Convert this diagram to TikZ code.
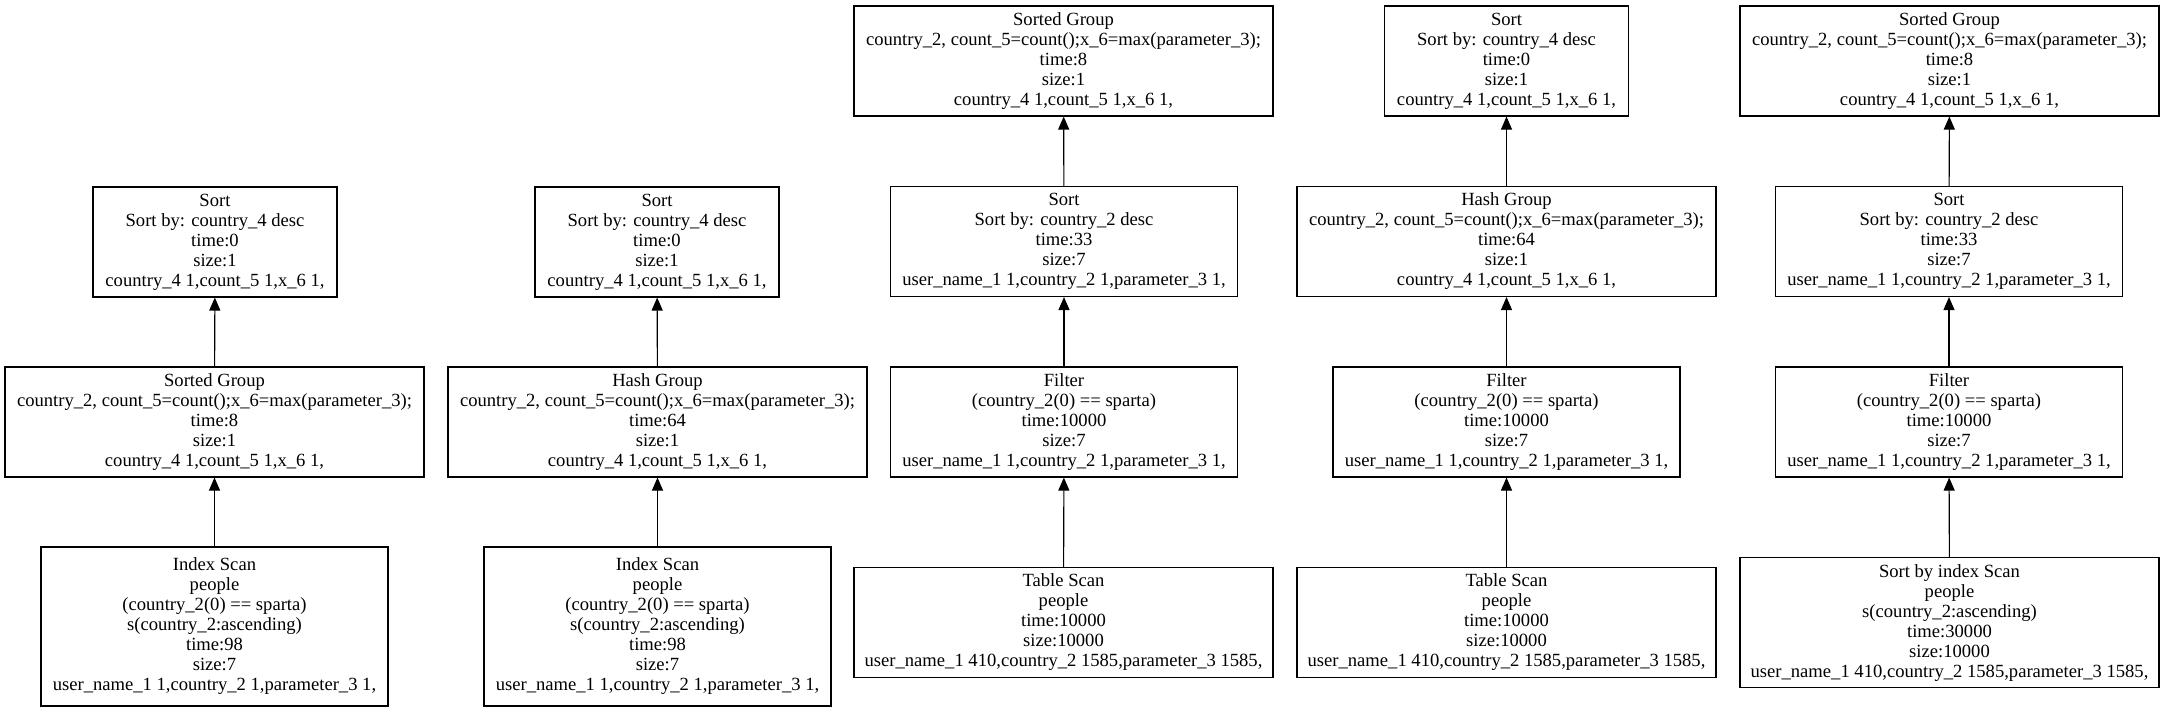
\documentclass[tikz,border=0pt]{standalone}
\usepackage{fontspec}
\setmainfont{Liberation Serif}
\usetikzlibrary{arrows.meta}
\begin{document}
\begin{tikzpicture}[x=1pt,y=-1pt,
  box/.style={draw, line width=1.1pt, rectangle, inner sep=0pt, align=center,
    font=\fontsize{18.6}{20}\selectfont},
  wn/.style={minimum width=244pt}, wm/.style={minimum width=347pt}, ww/.style={minimum width=419pt},
  hfive/.style={minimum height=110pt}, hsix/.style={minimum height=130pt}, hseven/.style={minimum height=159pt},
  edge/.style={line width=1.1pt, -{Triangle[length=13pt,width=11pt]}}]
\useasboundingbox (0,0) rectangle (2164,707);
% tree 1
\node[box,wn,hfive] (s1) at (215,242) {Sort\\Sort by: country\_4 desc\\time:0\\size:1\\country\_4 1,count\_5 1,x\_6 1,};
\node[box,ww,hfive] (g1) at (214.5,422) {Sorted Group\\country\_2, count\_5=count();x\_6=max(parameter\_3);\\time:8\\size:1\\country\_4 1,count\_5 1,x\_6 1,};
\node[box,wm,hseven] (i1) at (214.5,626.5) {Index Scan\\people\\(country\_2(0) == sparta)\\s(country\_2:ascending)\\time:98\\size:7\\user\_name\_1 1,country\_2 1,parameter\_3 1,};
\draw[edge] (i1) -- (g1);
\draw[edge] (g1) -- (s1);
% tree 2
\node[box,wn,hfive] (s2) at (657,242) {Sort\\Sort by: country\_4 desc\\time:0\\size:1\\country\_4 1,count\_5 1,x\_6 1,};
\node[box,ww,hfive] (g2) at (657.5,422) {Hash Group\\country\_2, count\_5=count();x\_6=max(parameter\_3);\\time:64\\size:1\\country\_4 1,count\_5 1,x\_6 1,};
\node[box,wm,hseven] (i2) at (657.5,626.5) {Index Scan\\people\\(country\_2(0) == sparta)\\s(country\_2:ascending)\\time:98\\size:7\\user\_name\_1 1,country\_2 1,parameter\_3 1,};
\draw[edge] (i2) -- (g2);
\draw[edge] (g2) -- (s2);
% tree 3
\node[box,ww,hfive] (g3) at (1063.5,61) {Sorted Group\\country\_2, count\_5=count();x\_6=max(parameter\_3);\\time:8\\size:1\\country\_4 1,count\_5 1,x\_6 1,};
\node[box,wm,hfive] (s3) at (1064,241.5) {Sort\\Sort by: country\_2 desc\\time:33\\size:7\\user\_name\_1 1,country\_2 1,parameter\_3 1,};
\node[box,wm,hfive] (f3) at (1064,422) {Filter\\(country\_2(0) == sparta)\\time:10000\\size:7\\user\_name\_1 1,country\_2 1,parameter\_3 1,};
\node[box,ww,hfive] (t3) at (1063.5,622.5) {Table Scan\\people\\time:10000\\size:10000\\user\_name\_1 410,country\_2 1585,parameter\_3 1585,};
\draw[edge] (t3) -- (f3);
\draw[edge] (f3) -- (s3);
\draw[edge] (s3) -- (g3);
% tree 4
\node[box,wn,hfive] (s4) at (1506.5,61) {Sort\\Sort by: country\_4 desc\\time:0\\size:1\\country\_4 1,count\_5 1,x\_6 1,};
\node[box,ww,hfive] (h4) at (1506.5,241.5) {Hash Group\\country\_2, count\_5=count();x\_6=max(parameter\_3);\\time:64\\size:1\\country\_4 1,count\_5 1,x\_6 1,};
\node[box,wm,hfive] (f4) at (1506.5,422) {Filter\\(country\_2(0) == sparta)\\time:10000\\size:7\\user\_name\_1 1,country\_2 1,parameter\_3 1,};
\node[box,ww,hfive] (t4) at (1506.5,622.5) {Table Scan\\people\\time:10000\\size:10000\\user\_name\_1 410,country\_2 1585,parameter\_3 1585,};
\draw[edge] (t4) -- (f4);
\draw[edge] (f4) -- (h4);
\draw[edge] (h4) -- (s4);
% tree 5
\node[box,ww,hfive] (g5) at (1949.5,61) {Sorted Group\\country\_2, count\_5=count();x\_6=max(parameter\_3);\\time:8\\size:1\\country\_4 1,count\_5 1,x\_6 1,};
\node[box,wm,hfive] (s5) at (1949,241.5) {Sort\\Sort by: country\_2 desc\\time:33\\size:7\\user\_name\_1 1,country\_2 1,parameter\_3 1,};
\node[box,wm,hfive] (f5) at (1949,422) {Filter\\(country\_2(0) == sparta)\\time:10000\\size:7\\user\_name\_1 1,country\_2 1,parameter\_3 1,};
\node[box,ww,hsix] (b5) at (1949.5,622.75) {Sort by index Scan\\people\\s(country\_2:ascending)\\time:30000\\size:10000\\user\_name\_1 410,country\_2 1585,parameter\_3 1585,};
\draw[edge] (b5) -- (f5);
\draw[edge] (f5) -- (s5);
\draw[edge] (s5) -- (g5);
\end{tikzpicture}
\end{document}
